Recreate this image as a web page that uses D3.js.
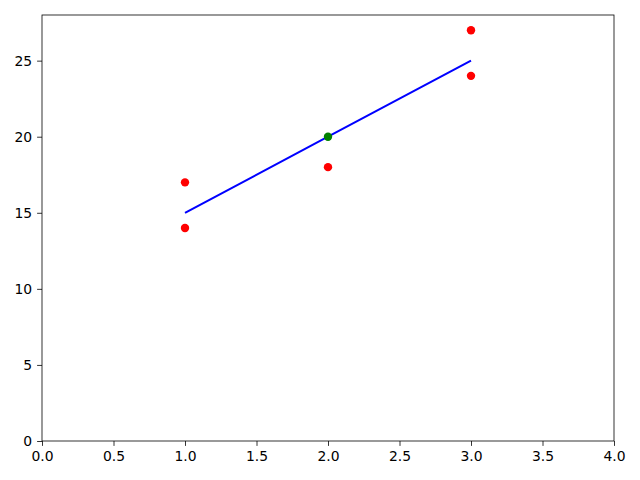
<!DOCTYPE html>
<head>
    <script src="https://cdnjs.cloudflare.com/ajax/libs/d3/7.8.5/d3.min.js"></script>
    <style>
        body { margin: 0; background: #fff; }
        .axis text { font-family: "DejaVu Sans", sans-serif; fill: #000; }
        .axis path, .axis line { stroke: #000; stroke-width: 0.8; }
    </style>
</head>
<body>
    <div id="chart"></div>
    <script type="text/javascript">
        // data
        const pointX = [1, 1, 2, 3, 3];
        const pointY = [17, 14, 18, 27, 24];
        const lineX = [1, 2, 3];
        const lineY = [15, 20, 25];
        const meanX = [2];
        const meanY = [20];
        const xTicks = [0, 0.5, 1, 1.5, 2, 2.5, 3, 3.5, 4];
        const yTicks = [0, 5, 10, 15, 20, 25];

        const width = 640;
        const height = 480;
        const marginLeft = 42;
        const marginTop = 15;
        const marginRight = 26;
        const marginBottom = 39;

        const svg = d3.select("#chart")
            .append("svg")
            .attr("width", width)
            .attr("height", height);

        const xScale = d3.scaleLinear()
            .domain([0, 4])
            .range([marginLeft, width - marginRight]);

        const yScale = d3.scaleLinear()
            .domain([0, 28])
            .range([height - marginBottom, marginTop]);

        // frame
        svg.append("rect")
            .attr("x", marginLeft)
            .attr("y", marginTop)
            .attr("width", width - marginLeft - marginRight)
            .attr("height", height - marginTop - marginBottom)
            .attr("fill", "none")
            .attr("stroke", "#000")
            .attr("stroke-width", 0.8);

        const xAxis = d3.axisBottom(xScale)
            .tickValues(xTicks)
            .tickFormat(d3.format(".1f"))
            .tickSize(4.9)
            .tickPadding(4.9);

        svg.append("g")
            .attr("class", "axis x")
            .attr("transform", "translate(0," + (height - marginBottom) + ")")
            .call(xAxis)
            .call(g => g.select(".domain").remove());

        const yAxis = d3.axisLeft(yScale)
            .tickValues(yTicks)
            .tickSize(4.9)
            .tickPadding(4.9);

        svg.append("g")
            .attr("class", "axis y")
            .attr("transform", "translate(" + marginLeft + ",0)")
            .call(yAxis)
            .call(g => g.select(".domain").remove());

        svg.selectAll(".axis text").style("font-size", "13.9px").attr("font-family", null);

        // red points
        svg.append("g")
            .selectAll("circle")
            .data(pointX.map((x, i) => [x, pointY[i]]))
            .enter()
            .append("circle")
            .attr("cx", d => xScale(d[0]))
            .attr("cy", d => yScale(d[1]))
            .attr("r", 4.2)
            .attr("fill", "red");

        // blue line
        const line = d3.line()
            .x(d => xScale(d[0]))
            .y(d => yScale(d[1]));

        svg.append("path")
            .datum(lineX.map((x, i) => [x, lineY[i]]))
            .attr("d", line)
            .attr("fill", "none")
            .attr("stroke", "blue")
            .attr("stroke-width", 2);

        // green point
        svg.append("g")
            .selectAll("circle")
            .data(meanX.map((x, i) => [x, meanY[i]]))
            .enter()
            .append("circle")
            .attr("cx", d => xScale(d[0]))
            .attr("cy", d => yScale(d[1]))
            .attr("r", 4.2)
            .attr("fill", "green");
    </script>
</body>
